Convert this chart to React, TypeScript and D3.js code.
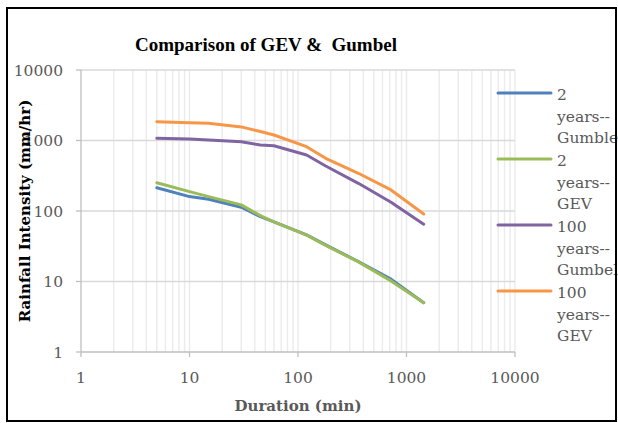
import React from "react";
import * as d3 from "d3";

const durations = [5, 10, 15, 30, 45, 60, 120, 180, 360, 720, 1440];
const gumbel2 = [214, 160, 147, 113, 83, 70, 46, 33, 19.2, 10.8, 5.0];
const gev2 = [252, 188, 160, 122, 86, 70, 45.5, 32.5, 19, 10.2, 5.0];
const gumbel100 = [1072, 1050, 1016, 962, 863, 844, 623, 435, 247, 133, 65];
const gev100 = [1850, 1790, 1753, 1560, 1340, 1197, 817, 559, 343, 199, 90.7];

const seriesNames = [
  ["2", "years--", "Gumble"],
  ["2", "years--", "GEV"],
  ["100", "years--", "Gumbel"],
  ["100", "years--", "GEV"],
];
const seriesValues = [gumbel2, gev2, gumbel100, gev100];
const seriesColors = ["#4f81bd", "#9bbb59", "#8064a2", "#f79646"];

const decadeTicks = [1, 10, 100, 1000, 10000];
const tickLabels = ["1", "10", "100", "1000", "10000"];

const title = "Comparison of GEV &  Gumbel";
const xTitle = "Duration (min)";
const yTitle = "Rainfall Intensity (mm/hr)";

const W = 618;
const H = 423;
const FONT = "'DejaVu Serif', serif";

export default function App() {
  const x = d3.scaleLog().domain([1, 10000]).range([81, 515]);
  const y = d3.scaleLog().domain([1, 10000]).range([352, 70]);

  const minorX: number[] = [];
  for (let k = 0; k < 4; k++) {
    for (let m = 2; m <= 10; m++) minorX.push(m * Math.pow(10, k));
  }

  const line = d3
    .line<[number, number]>()
    .x((d) => x(d[0]))
    .y((d) => y(d[1]));

  const legendY0 = 93;
  const legendStep = 66;

  return (
    <svg
      width={W}
      height={H}
      style={{ position: "absolute", left: 0, top: 0, background: "#fff" }}
      fontFamily={FONT}
    >
      <rect x={0} y={0} width={W} height={H} fill="#fff" />
      {minorX.map((v, i) => (
        <line
          key={"vx" + i}
          x1={x(v)}
          x2={x(v)}
          y1={y(10000)}
          y2={y(1)}
          stroke="#ebebeb"
          strokeWidth={1.4}
        />
      ))}
      {decadeTicks.slice(1).map((v, i) => (
        <line
          key={"hy" + i}
          x1={x(1)}
          x2={x(10000)}
          y1={y(v)}
          y2={y(v)}
          stroke="#d9d9d9"
          strokeWidth={1.5}
        />
      ))}
      <line x1={x(1)} x2={x(1)} y1={y(10000)} y2={y(1)} stroke="#bfbfbf" strokeWidth={1.3} />
      <line x1={x(1)} x2={x(10000)} y1={y(1)} y2={y(1)} stroke="#bfbfbf" strokeWidth={1.3} />
      {decadeTicks.map((v, i) => (
        <line key={"ty" + i} x1={x(1) - 5} x2={x(1)} y1={y(v)} y2={y(v)} stroke="#bfbfbf" strokeWidth={1.3} />
      ))}
      {decadeTicks.map((v, i) => (
        <line key={"tx" + i} x1={x(v)} x2={x(v)} y1={y(1)} y2={y(1) + 5} stroke="#bfbfbf" strokeWidth={1.3} />
      ))}
      {decadeTicks.map((v, i) => (
        <text
          key={"ly" + i}
          x={63}
          y={y(v)}
          dy="0.36em"
          textAnchor="end"
          fontSize={15.5}
          fill="#595959"
        >
          {tickLabels[i]}
        </text>
      ))}
      {decadeTicks.map((v, i) => (
        <text key={"lx" + i} x={x(v)} y={383} textAnchor="middle" fontSize={15.5} fill="#595959">
          {tickLabels[i]}
        </text>
      ))}
      {seriesValues.map((vals, si) => (
        <path
          key={"s" + si}
          d={line(durations.map((d, i) => [d, vals[i]] as [number, number])) || ""}
          fill="none"
          stroke={seriesColors[si]}
          strokeWidth={3}
          strokeLinejoin="round"
          strokeLinecap="round"
        />
      ))}
      <text
        x={266}
        y={51}
        textAnchor="middle"
        fontSize={19}
        fontWeight="bold"
        fontFamily="'Liberation Serif', serif"
        fill="#000"
        style={{ whiteSpace: "pre" }}
      >
        {title}
      </text>
      <text x={298} y={411} textAnchor="middle" fontSize={15} fontWeight="bold" fill="#595959">
        {xTitle}
      </text>
      <text
        transform={`translate(30, ${(y(1) + y(10000)) / 2}) rotate(-90)`}
        textAnchor="middle"
        fontSize={15}
        fontWeight="bold"
        fill="#000"
      >
        {yTitle}
      </text>
      {seriesNames.map((lines, si) => {
        const ly = legendY0 + si * legendStep;
        return (
          <g key={"lg" + si}>
            <line
              x1={498}
              x2={551}
              y1={ly}
              y2={ly}
              stroke={seriesColors[si]}
              strokeWidth={3}
              strokeLinecap="round"
            />
            {lines.map((t, li) => (
              <text key={li} x={557} y={ly + 7 + li * 21.5} fontSize={15.5} fill="#595959">
                {t}
              </text>
            ))}
          </g>
        );
      })}
      <rect x={7} y={8} width={609} height={413} fill="none" stroke="#000" strokeWidth={2} />
    </svg>
  );
}
